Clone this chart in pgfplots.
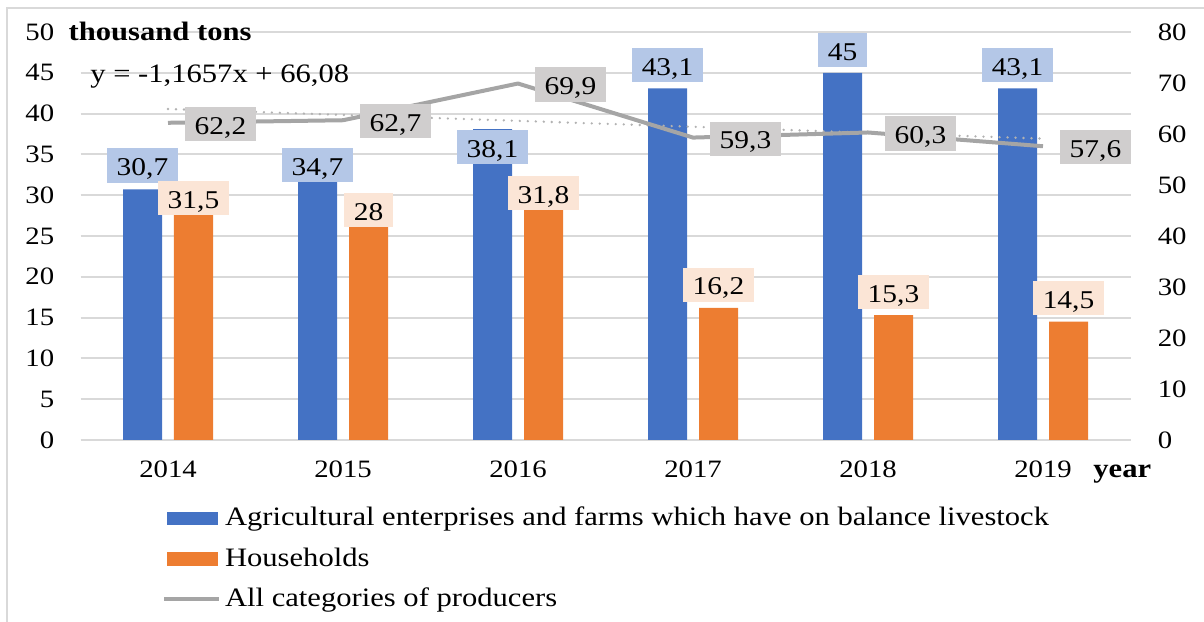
\documentclass[border=0pt]{standalone}
\usepackage{fontspec}
\setmainfont{Liberation Serif}[FakeStretch=1.15]
\usepackage{pgfplots}
\usepackage{pgfplotstable}
\pgfplotsset{compat=1.18}
\definecolor{cblue}{HTML}{4472C4}
\definecolor{corange}{HTML}{ED7D31}
\definecolor{lblue}{HTML}{B4C7E7}
\definecolor{lorange}{HTML}{FBE5D6}
\definecolor{lgray}{HTML}{D0CECE}
\definecolor{cgray}{HTML}{A5A5A5}
\definecolor{gridgray}{HTML}{D9D9D9}
\newcommand\tickfont{\fontsize{12.5}{15}\selectfont}
\newcommand\labfont{\fontsize{12.8}{15}\selectfont}
\newcommand\bigfont{\fontsize{13.3}{16}\selectfont}

% year index, value, label offset (pt)
\pgfplotstableread{
x agri dagri house dhouse
0 30.7 3.25 31.5 -16.35
1 34.7 -12.95 28 -7.8
2 38.1 -17.7 31.8 -15.1
3 43.1 3 16.2 2.9
4 45 2.55 15.3 2.75
5 43.1 3 14.5 3
}\bartable
\pgfplotstableread{
x all
0 62.2
1 62.7
2 69.9
3 59.3
4 60.3
5 57.6
}\linetable
\pgfplotstableread{
x trend
0 64.91
5 59.09
}\trendtable

\tikzset{lab/.style={font=\labfont, text=black, inner xsep=5pt, inner ysep=3.35pt, text height=10.35pt, text depth=0pt}}

\begin{document}
\begin{tikzpicture}
\useasboundingbox (0,0) rectangle (602pt,310.5pt);
\draw[gridgray, line width=1pt] (3.5pt,-20pt) -- (3.5pt,306.5pt) -- (620pt,306.5pt);
\begin{axis}[
  at={(40.25pt,90.5pt)}, anchor=south west,
  scale only axis, width=525pt, height=204pt,
  xmin=-0.5, xmax=5.5, ymin=0, ymax=50,
  xtick={0,1,2,3,4,5}, xticklabels={2014,2015,2016,2017,2018,2019},
  ytick={0,5,...,50},
  axis x line*=bottom, axis y line*=left,
  y axis line style={draw=none},
  x axis line style={draw=gridgray, line width=1pt, -},
  major tick length=0pt,
  ymajorgrids, grid style={gridgray, line width=1pt},
  /pgf/number format/assume math mode=true,
  tick label style={font=\tickfont, text=black},
  yticklabel style={anchor=east, xshift=-9.6pt},
  xticklabel style={anchor=north, yshift=-6.7pt},
  clip=false,
]
\addplot[ybar, bar width=19.5pt, bar shift=0pt, fill=cblue, draw=none,
  nodes near coords, point meta=y, /pgf/number format/use comma,
  visualization depends on={\thisrow{dagri} \as \dy},
  every node near coord/.append style={lab, fill=lblue, anchor=south, yshift=\dy*1pt}]
  table[x expr=\thisrow{x}-0.1457, y=agri] {\bartable};
\addplot[ybar, bar width=19.5pt, bar shift=0pt, fill=corange, draw=none,
  nodes near coords, point meta=y, /pgf/number format/use comma,
  visualization depends on={\thisrow{dhouse} \as \dy},
  every node near coord/.append style={lab, fill=lorange, anchor=south, yshift=\dy*1pt}]
  table[x expr=\thisrow{x}+0.1457, y=house] {\bartable};
\node[anchor=base west, inner sep=0pt, font=\bigfont\bfseries] at (axis description cs:-0.0116,0.980) {thousand tons};
\node[anchor=base west, inner sep=0pt, font=\bigfont\bfseries] at (axis description cs:0.9643,-0.0907) {year};
\node[anchor=base west, inner sep=0pt, font=\bigfont] at (axis description cs:0.009,0.8757) {y = -1,1657x + 66,08};
\end{axis}
\begin{axis}[
  at={(40.25pt,90.5pt)}, anchor=south west,
  scale only axis, width=525pt, height=204pt,
  xmin=-0.5, xmax=5.5, ymin=0, ymax=80,
  ytick={0,10,...,80},
  axis x line=none, axis y line*=right, y axis line style={draw=none},
  major tick length=0pt,
  /pgf/number format/assume math mode=true,
  tick label style={font=\tickfont, text=black},
  yticklabel style={anchor=west, xshift=10.1pt},
  clip=false,
  legend cell align=left,
  legend style={at={(axis description cs:0.0773,-0.1618)}, anchor=north west, draw=none, fill=none, inner sep=0pt, column sep=2pt, row sep=8.2pt, font=\bigfont, nodes={inner sep=0pt, text height=9.6pt, text depth=2.4pt}},
]
\addlegendimage{legend image code/.code={\fill[cblue] (1.65pt,-3.15pt) rectangle (26.65pt,3.15pt);}}
\addlegendentry{Agricultural enterprises and farms which have on balance livestock}
\addlegendimage{legend image code/.code={\fill[corange] (1.65pt,-3.15pt) rectangle (26.65pt,3.15pt);}}
\addlegendentry{Households}
\addplot[forget plot, cgray!85, line width=1.3pt, dash pattern=on 0pt off 4pt, line cap=round] table[x=x, y=trend] {\trendtable};
\addplot[cgray, line width=2pt, line join=round, mark=none,
  nodes near coords, point meta=y, /pgf/number format/use comma,
  every node near coord/.append style={lab, fill=lgray, anchor=west, xshift=7.35pt, yshift=-0.5pt},
  legend image code/.code={\draw[cgray, line width=2pt] (0pt,0pt) -- (27.5pt,0pt);}]
  table[x=x, y=all] {\linetable};
\addlegendentry{All categories of producers}
\end{axis}
\end{tikzpicture}
\end{document}
